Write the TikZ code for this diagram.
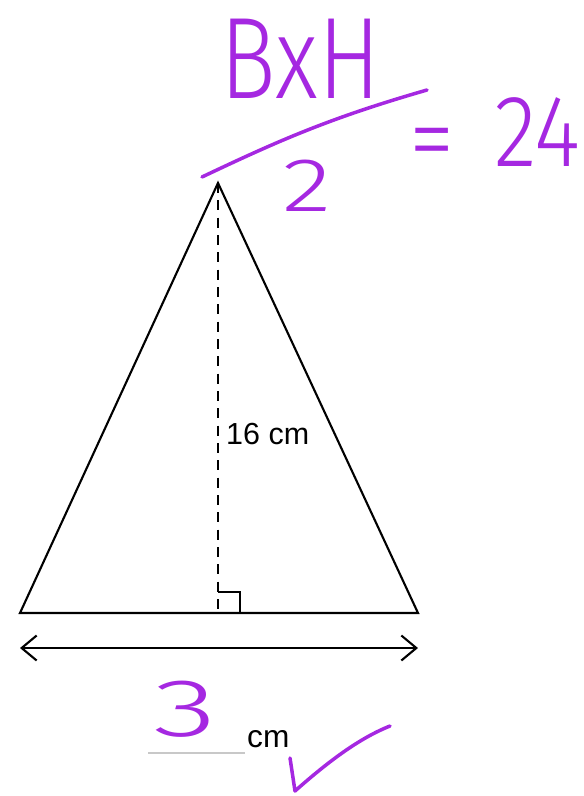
\documentclass[tikz,border=0pt]{standalone}
\usepackage{fontspec}
\setmainfont{Liberation Sans}
\newfontfamily\hand{Fira Sans Light}
\usetikzlibrary{calc,arrows.meta}
\definecolor{InkPurple}{RGB}{165,40,225}
\definecolor{LineGray}{RGB}{200,200,200}
\tikzset{
	side/.style={draw=black,line width=1.8pt,line join=miter},
	ink/.style={draw=InkPurple,line width=3pt,line cap=round,line join=round},
	scrawl/.style={text=InkPurple,inner sep=0pt},
	printed/.style={text=black,inner sep=0pt},
}

\begin{document}
\begin{tikzpicture}[x=0.03cm,y=-0.03cm]
	\useasboundingbox (0,0) rectangle (583,796);
	% triangle
	\coordinate (apex) at (218,183);
	\coordinate (bl) at (20,613);
	\coordinate (br) at (418,613);
	\coordinate (foot) at (218,613);
	\draw[side] (bl)--(apex)--(br)--cycle;
	\draw[black,line width=1.2pt,dash pattern=on 0.3cm off 0.22cm] (apex)--(foot);
	\draw[black,line width=1.2pt] ($(foot)+(0,-21)$) -| ($(foot)+(22,0)$);
	\node[printed,anchor=base west,font=\fontsize{26}{26}\selectfont] (ht) at (226,444) {16 cm};
	% base arrow
	\coordinate (al) at (20,648);
	\coordinate (ar) at (418,648);
	\draw[black,line width=1.8pt,{Straight Barb[length=0.45cm,width=0.75cm]}-{Straight Barb[length=0.45cm,width=0.75cm]}] (al)--(ar);
	\coordinate (ul) at (148,753);
	\coordinate (ur) at (245,753);
	\draw[LineGray,line width=1.2pt] (ul)--(ur);
	\node[printed,anchor=base west,font=\fontsize{27}{27}\selectfont] (unit) at (247,747) {cm};
	% handwriting
	\node[scrawl,anchor=south west,xscale=0.8,font=\hand\fontsize{99}{99}\selectfont] (num) at (220,99) {BxH};
	\coordinate (fa) at (202,177);
	\coordinate (fb) at (427,90);
	\draw[ink] (fa) .. controls (280,140) and (330,118) .. (fb);
	\node[scrawl,anchor=south west,xscale=1.35,font=\hand\fontsize{65}{65}\selectfont] (den) at (282,212) {2};
	\node[scrawl,anchor=center,xscale=0.9,font=\hand\fontsize{87}{87}\selectfont] (eq) at (432,151) {=};
	\node[scrawl,anchor=south west,xscale=0.87,font=\hand\fontsize{87}{87}\selectfont] (res) at (494,167) {24};
	\node[scrawl,anchor=south west,xscale=1.6,font=\hand\fontsize{70}{70}\selectfont] (ans) at (153,738) {3};
	\coordinate (ca) at (290,758);
	\coordinate (cb) at (295,791);
	\coordinate (cc) at (390,726);
	\draw[ink] (ca)--(cb) .. controls (330,760) and (360,738) .. (cc);
\end{tikzpicture}
\end{document}
